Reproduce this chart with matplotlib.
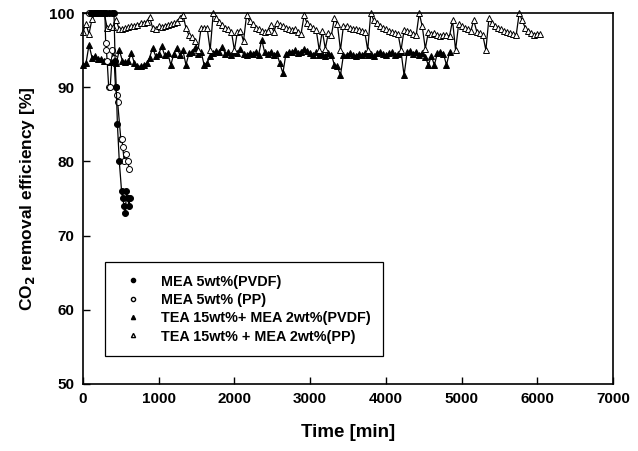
import matplotlib
matplotlib.use("Agg")
import matplotlib.pyplot as plt
from matplotlib.lines import Line2D

plt.rcParams['font.family'] = ['Liberation Sans', 'DejaVu Sans']
plt.rcParams['font.weight'] = 'bold'

# MEA 5wt% (PVDF) - filled circles
mea_pvdf_t = [100, 140, 180, 220, 260, 300, 340, 380, 410, 425, 440, 455, 480,
              510, 525, 545, 560, 575, 590, 610, 620]
mea_pvdf_v = [100, 100, 100, 100, 100, 100, 100, 100, 100, 93.5, 90, 85, 80,
              76, 75, 74, 73, 76, 75, 74, 75]

# MEA 5wt% (PP) - open circles
mea_pp_t = [80, 110, 140, 170, 200, 230, 260, 290, 300, 310, 320, 340, 360, 390,
            410, 430, 445, 458, 500, 515, 525, 545, 565, 590, 612]
mea_pp_v = [100, 100, 100, 100, 100, 100, 100, 100, 96, 95, 93.5, 90, 90, 95,
            94, 90, 89, 88, 83, 83, 82, 80, 81, 80, 79]

# TEA 15wt% + MEA 2wt% (PVDF) - filled triangles
tea_pvdf_t = [0, 40, 80, 120, 160, 200, 240, 280, 320, 360, 400, 440, 480, 520,
              560, 600, 640, 680, 720, 760, 800, 840, 880, 920, 960, 1000, 1040,
              1080, 1120, 1160, 1200, 1240, 1280, 1320, 1360, 1400, 1440, 1480,
              1520, 1560, 1600, 1640, 1680, 1720, 1760, 1800, 1840, 1880, 1920,
              1960, 2000, 2040, 2080, 2120, 2160, 2200, 2240, 2280, 2320, 2360,
              2400, 2440, 2480, 2520, 2560, 2600, 2640, 2680, 2720, 2760, 2800,
              2840, 2880, 2920, 2960, 3000, 3040, 3080, 3120, 3160, 3200, 3240,
              3280, 3320, 3360, 3400, 3440, 3480, 3520, 3560, 3600, 3640, 3680,
              3720, 3760, 3800, 3840, 3880, 3920, 3960, 4000, 4040, 4080, 4120,
              4160, 4200, 4240, 4280, 4320, 4360, 4400, 4440, 4480, 4520, 4560,
              4600, 4640, 4680, 4720, 4760, 4800, 4840]
tea_pvdf_v = [93.0, 93.2, 95.7, 94.0, 94.2, 93.8, 93.8, 93.6, 93.5, 93.4, 93.5,
              93.2, 95.0, 93.6, 93.4, 93.5, 94.6, 93.2, 92.9, 92.8, 93.0, 93.2,
              94.0, 95.3, 94.2, 94.5, 95.5, 94.3, 94.6, 93.0, 94.5, 95.3, 94.4,
              95.0, 93.0, 94.6, 94.8, 95.3, 94.5, 94.8, 93.0, 93.3, 94.2, 94.6,
              94.9, 94.7, 95.4, 94.5, 94.7, 94.4, 94.8, 94.6, 95.2, 94.5, 94.3,
              94.6, 94.5, 94.8, 94.4, 96.4, 94.7, 94.5, 94.8, 94.3, 94.6, 93.2,
              91.9, 94.5, 94.8, 94.7, 95.0, 94.6, 94.8, 95.2, 94.9, 94.6, 94.4,
              94.7, 94.3, 94.5, 94.2, 94.6, 94.4, 93.0, 92.8, 91.6, 94.4, 94.3,
              94.6, 94.4, 94.2, 94.5, 94.3, 94.6, 94.4, 94.5, 94.2, 94.6, 94.8,
              94.5, 94.3, 94.6, 94.7, 94.4, 94.5, 94.8, 91.6, 94.7, 94.9, 94.5,
              94.8, 94.4, 94.6, 94.1, 93.0, 94.2, 93.0, 94.6, 94.8, 94.5, 93.0,
              94.7]

# TEA 15wt% + MEA 2wt% (PP) - open triangles
tea_pp_t = [0, 40, 80, 120, 160, 200, 240, 280, 320, 360, 400, 440, 480, 520,
            560, 600, 640, 680, 720, 760, 800, 840, 880, 920, 960, 1000, 1040,
            1080, 1120, 1160, 1200, 1240, 1280, 1320, 1360, 1400, 1440, 1480,
            1520, 1560, 1600, 1640, 1680, 1720, 1760, 1800, 1840, 1880, 1920,
            1960, 2000, 2040, 2080, 2120, 2160, 2200, 2240, 2280, 2320, 2360,
            2400, 2440, 2480, 2520, 2560, 2600, 2640, 2680, 2720, 2760, 2800,
            2840, 2880, 2920, 2960, 3000, 3040, 3080, 3120, 3160, 3200, 3240,
            3280, 3320, 3360, 3400, 3440, 3480, 3520, 3560, 3600, 3640, 3680,
            3720, 3760, 3800, 3840, 3880, 3920, 3960, 4000, 4040, 4080, 4120,
            4160, 4200, 4240, 4280, 4320, 4360, 4400, 4440, 4480, 4520, 4560,
            4600, 4640, 4680, 4720, 4760, 4800, 4840, 4880, 4920, 4960, 5000,
            5040, 5080, 5120, 5160, 5200, 5240, 5280, 5320, 5360, 5400, 5440,
            5480, 5520, 5560, 5600, 5640, 5680, 5720, 5760, 5800, 5840, 5880,
            5920, 5960, 6000, 6040]
tea_pp_v = [97.5, 98.5, 97.2, 99.2, 100, 100, 100, 100, 98.0, 98.2, 98.1, 99.0,
            97.8, 97.9, 98.0, 98.1, 98.2, 98.3, 98.4, 98.6, 98.7, 98.8, 99.5,
            98.0, 97.9, 98.2, 98.1, 98.3, 98.4, 98.5, 98.6, 98.8, 99.4, 99.8,
            98.0, 97.0, 96.8, 96.2, 95.0, 98.0, 98.0, 98.0, 95.0, 100, 99.4,
            98.8, 98.4, 98.0, 97.8, 97.5, 95.0, 97.5, 97.6, 96.2, 99.7, 98.9,
            98.5, 98.0, 97.8, 97.6, 97.4, 97.6, 98.4, 97.5, 98.6, 98.4, 98.2,
            98.0, 97.8, 97.7, 97.9, 97.4, 97.2, 99.7, 98.6, 98.2, 98.0, 97.7,
            95.0, 97.6, 95.2, 97.3, 97.0, 99.3, 98.5, 95.0, 98.3, 98.2, 98.0,
            97.9, 97.8, 97.7, 97.6, 97.5, 95.0, 100, 99.0, 98.6, 98.3, 98.0,
            97.8, 97.6, 97.4, 97.3, 97.2, 95.0, 97.7, 97.6, 97.4, 97.2, 97.0,
            100, 98.2, 95.2, 97.4, 97.2, 97.3, 97.0, 96.9, 97.1, 97.0, 96.9,
            99.0, 95.0, 98.5, 98.2, 98.0, 97.8, 97.6, 99.0, 97.5, 97.3, 97.0,
            95.0, 99.3, 98.6, 98.3, 98.0, 97.8, 97.6, 97.5, 97.3, 97.2, 97.0,
            100, 99.0, 98.0, 97.6, 97.3, 97.1, 97.2, 97.2]

labels = ['MEA 5wt%(PVDF)', 'MEA 5wt% (PP)',
          'TEA 15wt%+ MEA 2wt%(PVDF)', 'TEA 15wt% + MEA 2wt%(PP)']

fig = plt.figure(figsize=(6.38, 4.51), dpi=100)
ax = fig.add_axes([0.130, 0.149, 0.831, 0.822])

lw = 0.9
ax.plot(tea_pvdf_t, tea_pvdf_v, color='black', lw=lw, marker='^', ms=4.8,
        mfc='black', mec='black', mew=0.7, clip_on=False)
ax.plot(tea_pp_t, tea_pp_v, color='black', lw=lw, marker='^', ms=4.8,
        mfc='white', mec='black', mew=0.7, clip_on=False)
ax.plot(mea_pp_t, mea_pp_v, color='black', lw=lw, marker='o', ms=4.3,
        mfc='white', mec='black', mew=0.7, clip_on=False)
ax.plot(mea_pvdf_t, mea_pvdf_v, color='black', lw=lw, marker='o', ms=4.3,
        mfc='black', mec='black', mew=0.7, clip_on=False)

ax.set_xlim(0, 7000)
ax.set_ylim(50, 100)
ax.set_xticks([0, 1000, 2000, 3000, 4000, 5000, 6000, 7000])
ax.set_yticks([50, 60, 70, 80, 90, 100])
ax.tick_params(direction='in', length=5, width=1, labelsize=11, pad=6)
for s in ax.spines.values():
    s.set_linewidth(1.2)

ax.set_xlabel('Time [min]', fontsize=13.5, fontweight='bold', labelpad=13)
ax.set_ylabel('CO$_\\mathbf{2}$ removal efficiency [%]', fontsize=12.5,
              fontweight='bold', labelpad=9)

# legend shows markers only
handles = [
    Line2D([], [], ls='none', marker='o', ms=3, mfc='black', mec='black'),
    Line2D([], [], ls='none', marker='o', ms=3, mfc='white', mec='black'),
    Line2D([], [], ls='none', marker='^', ms=3, mfc='black', mec='black'),
    Line2D([], [], ls='none', marker='^', ms=3, mfc='white', mec='black'),
]
leg = ax.legend(handles, labels, loc='lower left',
                bbox_to_anchor=(0.0415, 0.0755), frameon=True, fancybox=False,
                edgecolor='black', framealpha=1,
                prop={'weight': 'bold', 'size': 10.4}, handlelength=2.2,
                handletextpad=0.8, borderpad=0.85, labelspacing=0.3,
                borderaxespad=0)
leg.get_frame().set_linewidth(0.9)

fig.savefig('out.png', dpi=100)
